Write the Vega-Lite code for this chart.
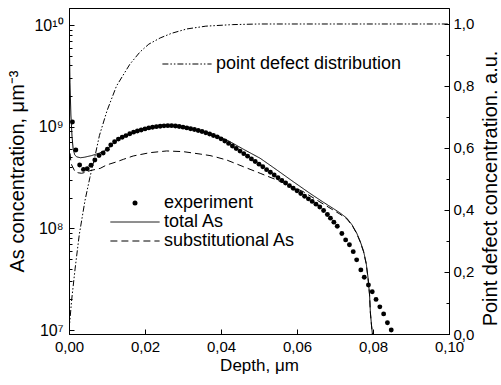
{
  "$schema": "https://vega.github.io/schema/vega-lite/v6.json",
  "width": 380,
  "height": 326,
  "autosize": {"type": "none"},
  "padding": {"left": 69, "top": 8, "right": 52, "bottom": 51},
  "background": "white",
  "config": {
    "font": "Liberation Sans",
    "view": {"stroke": "black", "strokeWidth": 1},
    "axis": {
      "domainColor": "black", "tickColor": "black", "labelColor": "black", "titleColor": "black",
      "labelFont": "Liberation Sans", "titleFont": "Liberation Sans", "titleFontWeight": "normal",
      "grid": false, "tickSize": -5, "labelFontSize": 15, "titleFontSize": 20,
      "labelFlush": false, "labelOverlap": false, "labelBound": false, "domainWidth": 1, "tickWidth": 1
    },
    "legend": {
      "orient": "none", "padding": 0, "labelFont": "Liberation Sans", "labelFontSize": 18,
      "labelColor": "black", "labelLimit": 0, "labelOffset": 20, "rowPadding": 1,
      "symbolSize": 36, "symbolType": "M-8.2,0H8.2", "symbolStrokeColor": "black",
      "symbolStrokeWidth": 1, "symbolFillColor": "transparent", "title": null
    }
  },
  "datasets": {
    "as": [
      {"depth": 0.0, "conc": 1.5e10, "series": "total As"},
      {"depth": 0.0001, "conc": 6.7e9, "series": "total As"},
      {"depth": 0.00026, "conc": 2.7e9, "series": "total As"},
      {"depth": 0.0005, "conc": 1.3e9, "series": "total As"},
      {"depth": 0.0008, "conc": 8.0e8, "series": "total As"},
      {"depth": 0.0011, "conc": 6.0e8, "series": "total As"},
      {"depth": 0.0015, "conc": 5.3e8, "series": "total As"},
      {"depth": 0.002, "conc": 5.05e8, "series": "total As"},
      {"depth": 0.003, "conc": 4.95e8, "series": "total As"},
      {"depth": 0.004, "conc": 5.0e8, "series": "total As"},
      {"depth": 0.005, "conc": 5.1e8, "series": "total As"},
      {"depth": 0.006, "conc": 5.2e8, "series": "total As"},
      {"depth": 0.007, "conc": 5.35e8, "series": "total As"},
      {"depth": 0.008, "conc": 5.5e8, "series": "total As"},
      {"depth": 0.009, "conc": 5.7e8, "series": "total As"},
      {"depth": 0.010, "conc": 5.95e8, "series": "total As"},
      {"depth": 0.011, "conc": 6.45e8, "series": "total As"},
      {"depth": 0.012, "conc": 7.05e8, "series": "total As"},
      {"depth": 0.013, "conc": 7.5e8, "series": "total As"},
      {"depth": 0.015, "conc": 8.17e8, "series": "total As"},
      {"depth": 0.018, "conc": 9.06e8, "series": "total As"},
      {"depth": 0.021, "conc": 9.73e8, "series": "total As"},
      {"depth": 0.024, "conc": 1.01e9, "series": "total As"},
      {"depth": 0.027, "conc": 1.023e9, "series": "total As"},
      {"depth": 0.030, "conc": 9.95e8, "series": "total As"},
      {"depth": 0.033, "conc": 9.45e8, "series": "total As"},
      {"depth": 0.036, "conc": 8.85e8, "series": "total As"},
      {"depth": 0.039, "conc": 8.1e8, "series": "total As"},
      {"depth": 0.042, "conc": 7.25e8, "series": "total As"},
      {"depth": 0.0459, "conc": 6.0e8, "series": "total As"},
      {"depth": 0.0503, "conc": 4.89e8, "series": "total As"},
      {"depth": 0.0547, "conc": 3.75e8, "series": "total As"},
      {"depth": 0.059, "conc": 2.88e8, "series": "total As"},
      {"depth": 0.0634, "conc": 2.21e8, "series": "total As"},
      {"depth": 0.0668, "conc": 1.82e8, "series": "total As"},
      {"depth": 0.0695, "conc": 1.57e8, "series": "total As"},
      {"depth": 0.0713, "conc": 1.42e8, "series": "total As"},
      {"depth": 0.0731, "conc": 1.26e8, "series": "total As"},
      {"depth": 0.0745, "conc": 1.08e8, "series": "total As"},
      {"depth": 0.0757, "conc": 9.0e7, "series": "total As"},
      {"depth": 0.0766, "conc": 7.5e7, "series": "total As"},
      {"depth": 0.0775, "conc": 6.0e7, "series": "total As"},
      {"depth": 0.0782, "conc": 4.56e7, "series": "total As"},
      {"depth": 0.0787, "conc": 3.25e7, "series": "total As"},
      {"depth": 0.0791, "conc": 2.21e7, "series": "total As"},
      {"depth": 0.0793, "conc": 1.5e7, "series": "total As"},
      {"depth": 0.0796, "conc": 1.12e7, "series": "total As"},
      {"depth": 0.0800, "conc": 8.0e6, "series": "total As"},

      {"depth": 0.0, "conc": 7.0e8, "series": "substitutional As"},
      {"depth": 0.00045, "conc": 4.7e8, "series": "substitutional As"},
      {"depth": 0.0007, "conc": 4.2e8, "series": "substitutional As"},
      {"depth": 0.0016, "conc": 3.6e8, "series": "substitutional As"},
      {"depth": 0.0024, "conc": 3.52e8, "series": "substitutional As"},
      {"depth": 0.0033, "conc": 3.48e8, "series": "substitutional As"},
      {"depth": 0.0047, "conc": 3.58e8, "series": "substitutional As"},
      {"depth": 0.0055, "conc": 3.69e8, "series": "substitutional As"},
      {"depth": 0.0082, "conc": 3.89e8, "series": "substitutional As"},
      {"depth": 0.0099, "conc": 4.2e8, "series": "substitutional As"},
      {"depth": 0.0126, "conc": 4.52e8, "series": "substitutional As"},
      {"depth": 0.0143, "conc": 4.77e8, "series": "substitutional As"},
      {"depth": 0.0169, "conc": 5.15e8, "series": "substitutional As"},
      {"depth": 0.0213, "conc": 5.55e8, "series": "substitutional As"},
      {"depth": 0.0257, "conc": 5.77e8, "series": "substitutional As"},
      {"depth": 0.0301, "conc": 5.68e8, "series": "substitutional As"},
      {"depth": 0.0345, "conc": 5.38e8, "series": "substitutional As"},
      {"depth": 0.0371, "conc": 5.2e8, "series": "substitutional As"},
      {"depth": 0.0389, "conc": 5.0e8, "series": "substitutional As"},
      {"depth": 0.0415, "conc": 4.7e8, "series": "substitutional As"},
      {"depth": 0.0459, "conc": 4.04e8, "series": "substitutional As"},
      {"depth": 0.0503, "conc": 3.48e8, "series": "substitutional As"},
      {"depth": 0.0547, "conc": 2.99e8, "series": "substitutional As"},
      {"depth": 0.0616, "conc": 2.3e8, "series": "substitutional As"},
      {"depth": 0.0652, "conc": 1.9e8, "series": "substitutional As"},
      {"depth": 0.0687, "conc": 1.58e8, "series": "substitutional As"},
      {"depth": 0.0713, "conc": 1.38e8, "series": "substitutional As"},
      {"depth": 0.0731, "conc": 1.24e8, "series": "substitutional As"},
      {"depth": 0.0745, "conc": 1.07e8, "series": "substitutional As"},
      {"depth": 0.0757, "conc": 8.9e7, "series": "substitutional As"},
      {"depth": 0.0766, "conc": 7.4e7, "series": "substitutional As"},
      {"depth": 0.0775, "conc": 5.9e7, "series": "substitutional As"},
      {"depth": 0.0782, "conc": 4.5e7, "series": "substitutional As"},
      {"depth": 0.0787, "conc": 3.2e7, "series": "substitutional As"},
      {"depth": 0.0791, "conc": 2.2e7, "series": "substitutional As"},
      {"depth": 0.0793, "conc": 1.5e7, "series": "substitutional As"},
      {"depth": 0.0796, "conc": 1.12e7, "series": "substitutional As"},
      {"depth": 0.0800, "conc": 8.0e6, "series": "substitutional As"},

      {"depth": 0.0009, "conc": 1.11e9, "series": "experiment"},
      {"depth": 0.0018, "conc": 5.9e8, "series": "experiment"},
      {"depth": 0.0028, "conc": 4.2e8, "series": "experiment"},
      {"depth": 0.0038, "conc": 3.8e8, "series": "experiment"},
      {"depth": 0.0048, "conc": 3.86e8, "series": "experiment"},
      {"depth": 0.0058, "conc": 4.17e8, "series": "experiment"},
      {"depth": 0.0068, "conc": 4.7e8, "series": "experiment"},
      {"depth": 0.0079, "conc": 5.2e8, "series": "experiment"},
      {"depth": 0.009, "conc": 5.5e8, "series": "experiment"},
      {"depth": 0.0101, "conc": 6.0e8, "series": "experiment"},
      {"depth": 0.011, "conc": 6.6e8, "series": "experiment"},
      {"depth": 0.012, "conc": 7.1e8, "series": "experiment"},
      {"depth": 0.013, "conc": 7.55e8, "series": "experiment"},
      {"depth": 0.014, "conc": 7.87e8, "series": "experiment"},
      {"depth": 0.015, "conc": 8.17e8, "series": "experiment"},
      {"depth": 0.016, "conc": 8.51e8, "series": "experiment"},
      {"depth": 0.017, "conc": 8.83e8, "series": "experiment"},
      {"depth": 0.018, "conc": 9.06e8, "series": "experiment"},
      {"depth": 0.019, "conc": 9.29e8, "series": "experiment"},
      {"depth": 0.020, "conc": 9.51e8, "series": "experiment"},
      {"depth": 0.021, "conc": 9.73e8, "series": "experiment"},
      {"depth": 0.022, "conc": 9.86e8, "series": "experiment"},
      {"depth": 0.023, "conc": 1.0e9, "series": "experiment"},
      {"depth": 0.024, "conc": 1.009e9, "series": "experiment"},
      {"depth": 0.025, "conc": 1.019e9, "series": "experiment"},
      {"depth": 0.026, "conc": 1.023e9, "series": "experiment"},
      {"depth": 0.027, "conc": 1.023e9, "series": "experiment"},
      {"depth": 0.028, "conc": 1.016e9, "series": "experiment"},
      {"depth": 0.029, "conc": 1.005e9, "series": "experiment"},
      {"depth": 0.030, "conc": 9.89e8, "series": "experiment"},
      {"depth": 0.031, "conc": 9.73e8, "series": "experiment"},
      {"depth": 0.032, "conc": 9.55e8, "series": "experiment"},
      {"depth": 0.033, "conc": 9.38e8, "series": "experiment"},
      {"depth": 0.034, "conc": 9.16e8, "series": "experiment"},
      {"depth": 0.035, "conc": 8.95e8, "series": "experiment"},
      {"depth": 0.036, "conc": 8.71e8, "series": "experiment"},
      {"depth": 0.037, "conc": 8.47e8, "series": "experiment"},
      {"depth": 0.038, "conc": 8.20e8, "series": "experiment"},
      {"depth": 0.039, "conc": 7.94e8, "series": "experiment"},
      {"depth": 0.040, "conc": 7.59e8, "series": "experiment"},
      {"depth": 0.041, "conc": 7.24e8, "series": "experiment"},
      {"depth": 0.042, "conc": 6.85e8, "series": "experiment"},
      {"depth": 0.043, "conc": 6.46e8, "series": "experiment"},
      {"depth": 0.044, "conc": 6.10e8, "series": "experiment"},
      {"depth": 0.045, "conc": 5.75e8, "series": "experiment"},
      {"depth": 0.046, "conc": 5.43e8, "series": "experiment"},
      {"depth": 0.047, "conc": 5.13e8, "series": "experiment"},
      {"depth": 0.048, "conc": 4.82e8, "series": "experiment"},
      {"depth": 0.049, "conc": 4.54e8, "series": "experiment"},
      {"depth": 0.050, "conc": 4.28e8, "series": "experiment"},
      {"depth": 0.051, "conc": 4.03e8, "series": "experiment"},
      {"depth": 0.052, "conc": 3.78e8, "series": "experiment"},
      {"depth": 0.053, "conc": 3.56e8, "series": "experiment"},
      {"depth": 0.054, "conc": 3.35e8, "series": "experiment"},
      {"depth": 0.055, "conc": 3.15e8, "series": "experiment"},
      {"depth": 0.056, "conc": 2.96e8, "series": "experiment"},
      {"depth": 0.057, "conc": 2.79e8, "series": "experiment"},
      {"depth": 0.058, "conc": 2.63e8, "series": "experiment"},
      {"depth": 0.059, "conc": 2.48e8, "series": "experiment"},
      {"depth": 0.060, "conc": 2.34e8, "series": "experiment"},
      {"depth": 0.061, "conc": 2.20e8, "series": "experiment"},
      {"depth": 0.062, "conc": 2.07e8, "series": "experiment"},
      {"depth": 0.063, "conc": 1.95e8, "series": "experiment"},
      {"depth": 0.064, "conc": 1.84e8, "series": "experiment"},
      {"depth": 0.065, "conc": 1.73e8, "series": "experiment"},
      {"depth": 0.066, "conc": 1.62e8, "series": "experiment"},
      {"depth": 0.067, "conc": 1.50e8, "series": "experiment"},
      {"depth": 0.068, "conc": 1.37e8, "series": "experiment"},
      {"depth": 0.0688, "conc": 1.26e8, "series": "experiment"},
      {"depth": 0.0697, "conc": 1.15e8, "series": "experiment"},
      {"depth": 0.0706, "conc": 1.05e8, "series": "experiment"},
      {"depth": 0.0718, "conc": 8.9e7, "series": "experiment"},
      {"depth": 0.0728, "conc": 7.7e7, "series": "experiment"},
      {"depth": 0.0738, "conc": 6.9e7, "series": "experiment"},
      {"depth": 0.0748, "conc": 5.9e7, "series": "experiment"},
      {"depth": 0.0757, "conc": 4.9e7, "series": "experiment"},
      {"depth": 0.0768, "conc": 3.9e7, "series": "experiment"},
      {"depth": 0.0777, "conc": 3.3e7, "series": "experiment"},
      {"depth": 0.0788, "conc": 2.77e7, "series": "experiment"},
      {"depth": 0.0798, "conc": 2.38e7, "series": "experiment"},
      {"depth": 0.0808, "conc": 2.0e7, "series": "experiment"},
      {"depth": 0.0818, "conc": 1.69e7, "series": "experiment"},
      {"depth": 0.0828, "conc": 1.44e7, "series": "experiment"},
      {"depth": 0.0838, "conc": 1.18e7, "series": "experiment"},
      {"depth": 0.0848, "conc": 1.0e7, "series": "experiment"}
    ],
    "pd": [
      {"depth": 0.0, "pd": 0.01, "series": "point defect distribution"},
      {"depth": 0.0007, "pd": 0.11, "series": "point defect distribution"},
      {"depth": 0.0016, "pd": 0.21, "series": "point defect distribution"},
      {"depth": 0.0027, "pd": 0.32, "series": "point defect distribution"},
      {"depth": 0.0042, "pd": 0.43, "series": "point defect distribution"},
      {"depth": 0.0055, "pd": 0.505, "series": "point defect distribution"},
      {"depth": 0.0069, "pd": 0.577, "series": "point defect distribution"},
      {"depth": 0.008, "pd": 0.64, "series": "point defect distribution"},
      {"depth": 0.010, "pd": 0.72, "series": "point defect distribution"},
      {"depth": 0.0125, "pd": 0.80, "series": "point defect distribution"},
      {"depth": 0.016, "pd": 0.87, "series": "point defect distribution"},
      {"depth": 0.0187, "pd": 0.91, "series": "point defect distribution"},
      {"depth": 0.021, "pd": 0.935, "series": "point defect distribution"},
      {"depth": 0.024, "pd": 0.955, "series": "point defect distribution"},
      {"depth": 0.027, "pd": 0.97, "series": "point defect distribution"},
      {"depth": 0.031, "pd": 0.984, "series": "point defect distribution"},
      {"depth": 0.036, "pd": 0.993, "series": "point defect distribution"},
      {"depth": 0.043, "pd": 0.998, "series": "point defect distribution"},
      {"depth": 0.05, "pd": 1.0, "series": "point defect distribution"},
      {"depth": 0.1, "pd": 1.0, "series": "point defect distribution"}
    ]
  },
  "layer": [
    {
      "layer": [
        {
          "data": {"name": "as"},
          "transform": [{"filter": "datum.series !== 'experiment'"}],
          "mark": {"type": "line", "stroke": "black", "strokeWidth": 1, "clip": true},
          "encoding": {
            "x": {
              "field": "depth", "type": "quantitative",
              "scale": {"domain": [0, 0.1], "nice": false, "zero": false},
              "axis": {
                "title": "Depth, μm",
                "values": [0, 0.01, 0.02, 0.03, 0.04, 0.05, 0.06, 0.07, 0.08, 0.09, 0.1],
                "labelExpr": "round(datum.value*100) % 2 == 0 ? replace(format(datum.value, '.2f'), '.', ',') : ''",
                "tickDash": {"condition": {"test": "round(datum.value*100) % 2 == 1", "value": [3, 20]}, "value": [10, 0]},
                "labelPadding": 10, "titlePadding": 3, "titleFontSize": 17
              }
            },
            "y": {
              "field": "conc", "type": "quantitative",
              "scale": {"type": "log", "domain": [9.135e6, 1.47e10], "nice": false},
              "axis": {
                "orient": "left",
                "title": "As concentration, μm⁻³",
                "values": [1e7, 2e7, 3e7, 4e7, 5e7, 6e7, 7e7, 8e7, 9e7, 1e8, 2e8, 3e8, 4e8, 5e8, 6e8, 7e8, 8e8, 9e8, 1e9, 2e9, 3e9, 4e9, 5e9, 6e9, 7e9, 8e9, 9e9, 1e10],
                "labelExpr": "abs(log(datum.value)/LN10 - round(log(datum.value)/LN10)) < 0.001 ? '10' + ['⁷','⁸','⁹','¹⁰'][round(log(datum.value)/LN10) - 7] : ''",
                "tickDash": {"condition": {"test": "abs(log(datum.value)/LN10 - round(log(datum.value)/LN10)) > 0.001", "value": [3, 20]}, "value": [10, 0]},
                "labelPadding": 11, "titlePadding": 6, "labelFontSize": 16
              }
            },
            "strokeDash": {
              "field": "series", "type": "nominal",
              "scale": {"domain": ["experiment", "total As", "substitutional As"], "range": [[1, 0], [1, 0], [7, 4]]},
              "legend": {
                "legendX": 57, "legendY": 186,
                "encode": {
                  "symbols": {
                    "update": {
                      "shape": {"signal": "datum.value === 'experiment' ? 'circle' : 'M-8.2,0H8.2'"},
                      "fill": {"signal": "datum.value === 'experiment' ? 'black' : 'transparent'"},
                      "stroke": {"value": "black"},
                      "strokeOpacity": {"value": 1},
                      "opacity": {"value": 1},
                      "size": {"signal": "datum.value === 'experiment' ? 25 : 36"},
                      "strokeWidth": {"signal": "datum.value === 'experiment' ? 0 : 1"}
                    }
                  }
                }
              }
            }
          }
        },
        {
          "data": {"name": "as"},
          "transform": [{"filter": "datum.series === 'experiment'"}],
          "mark": {"type": "point", "filled": true, "shape": "circle", "size": 24, "color": "black", "opacity": 1, "strokeWidth": 0, "clip": true},
          "encoding": {
            "x": {"field": "depth", "type": "quantitative"},
            "y": {"field": "conc", "type": "quantitative"}
          }
        }
      ]
    },
    {
      "data": {"name": "pd"},
      "mark": {"type": "line", "stroke": "black", "strokeWidth": 1, "clip": true},
      "encoding": {
        "x": {"field": "depth", "type": "quantitative"},
        "y": {
          "field": "pd", "type": "quantitative",
          "scale": {"domain": [0, 1.0516], "nice": false, "zero": false},
          "axis": {
            "orient": "right",
            "title": "Point defect concentration. a.u.",
            "titleAngle": 270,
            "titleY": 180,
            "values": [0, 0.1, 0.2, 0.3, 0.4, 0.5, 0.6, 0.7, 0.8, 0.9, 1.0],
            "labelExpr": "round(datum.value*10) % 2 == 0 ? replace(format(datum.value, '.1f'), '.', ',') : ''",
            "tickDash": {"condition": {"test": "round(datum.value*10) % 2 == 1", "value": [3, 20]}, "value": [10, 0]},
            "labelPadding": 9, "titlePadding": 27, "labelFontSize": 15
          }
        },
        "strokeDash": {
          "field": "series", "type": "nominal",
          "scale": {"domain": ["point defect distribution"], "range": [[6, 2, 1.5, 2, 1.5, 2]]},
          "legend": {
            "legendX": 109, "legendY": 47,
            "encode": {
              "symbols": {
                "update": {
                  "shape": {"value": "M-8.2,0H8.2"},
                  "stroke": {"value": "black"},
                  "strokeOpacity": {"value": 1},
                  "opacity": {"value": 1},
                  "size": {"value": 36},
                  "strokeWidth": {"value": 1}
                }
              }
            }
          }
        }
      }
    }
  ],
  "resolve": {"scale": {"y": "independent", "strokeDash": "independent"}, "legend": {"strokeDash": "independent"}}
}
